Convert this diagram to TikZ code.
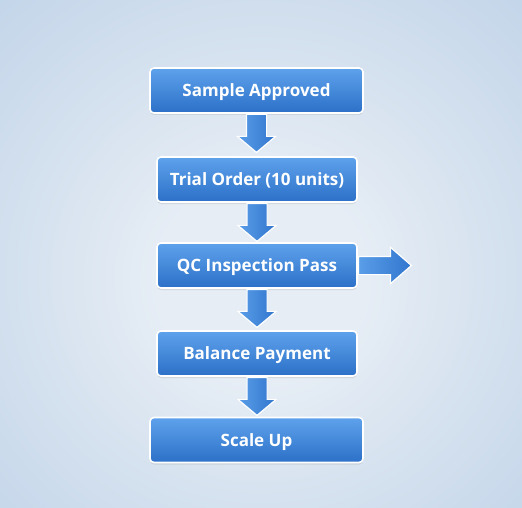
\documentclass[tikz,border=0pt]{standalone}
\usepackage{fontspec}
\setmainfont{Open Sans}
\usetikzlibrary{positioning,shapes.arrows,shadows}
\definecolor{bgin}{HTML}{E6EDF5}
\definecolor{bginner}{HTML}{D3E0EE}
\definecolor{bgmid}{HTML}{BDD1E8}
\definecolor{bgout}{HTML}{A6C1DE}
\definecolor{boxtop}{HTML}{5EA2EC}
\definecolor{boxbot}{HTML}{2C70C8}
\definecolor{arrowlight}{HTML}{5A9DE8}
\definecolor{arrowdark}{HTML}{3176CE}
\pgfdeclareradialshading{bgglow}{\pgfpoint{0bp}{-3bp}}{color(0bp)=(bgin); color(10bp)=(bgin); color(24bp)=(bginner); color(42bp)=(bgmid); color(60bp)=(bgout); color(75bp)=(bgout)}
\tikzset{
  flowbox/.style={draw=white, line width=1.6pt, rounded corners=4pt,
    top color=boxtop, bottom color=boxbot, minimum height=45pt,
    text=white, font=\bfseries\fontsize{17}{20}\selectfont,
    text height=12pt, text depth=0pt,
    drop shadow={shadow xshift=0pt, shadow yshift=-2pt, opacity=0.18}},
  downarrow/.style={single arrow, draw=white, line width=1.2pt,
    left color=arrowlight, right color=arrowdark, rotate=-90,
    inner sep=9.5pt, single arrow head extend=9pt, minimum width=1pt,
    minimum height=38pt, single arrow tip angle=100, anchor=tail},
  rightarrow/.style={single arrow, draw=white, line width=1.2pt,
    left color=arrowlight, right color=arrowdark,
    inner sep=8.5pt, single arrow head extend=9pt, minimum width=1pt,
    minimum height=53pt, single arrow tip angle=82, anchor=tail}
}

\begin{document}
\begin{tikzpicture}[x=1pt,y=-1pt]
  % background
  \useasboundingbox (0,0) rectangle (522,508);
  \shade[shading=bgglow] (0,0) rectangle (522,508);
  % steps
  \node[flowbox, minimum width=213pt] (approved) at (256.5,90.5) {Sample Approved};
  \node[flowbox, minimum width=200pt] (trial) at (257,179.5) {Trial Order (10 units)};
  \node[flowbox, minimum width=200pt] (qc) at (257,265.5) {QC Inspection Pass};
  \node[flowbox, minimum width=200pt] (balance) at (257,353.5) {Balance Payment};
  \node[flowbox, minimum width=213pt] (scale) at (256.5,440) {Scale Up};
  % arrows
  \path (approved.south) -- (trial.north) node[pos=0, downarrow](){};
  \path (trial.south) -- (qc.north) node[pos=0, downarrow](){};
  \path (qc.south) -- (balance.north) node[pos=0, downarrow](){};
  \path (balance.south) -- (scale.north) node[pos=0, downarrow](){};
  \coordinate (qcout) at (410,265.5);
  \path (qc.east) -- (qcout) node[pos=0, rightarrow](){};
\end{tikzpicture}
\end{document}
